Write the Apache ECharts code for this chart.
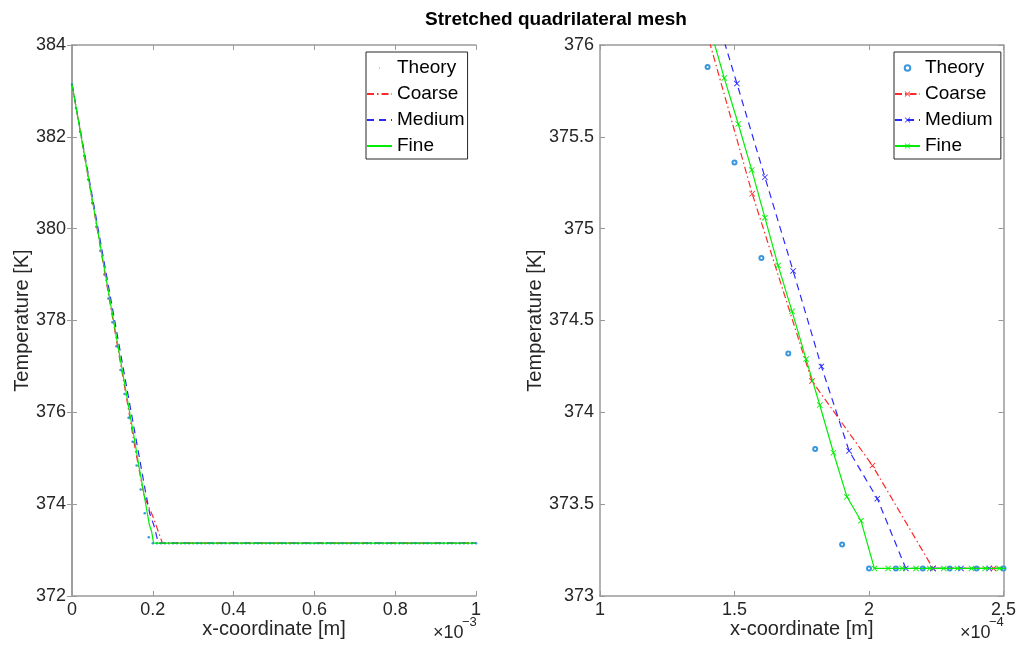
<!DOCTYPE html>
<html><head><meta charset="utf-8">
<script src="https://cdn.jsdelivr.net/npm/echarts@6/dist/echarts.min.js"></script>
<style>html,body{margin:0;padding:0;background:#fff}#c{width:1019px;height:654px}</style>
</head><body><div id="c"></div>
<script>
// x positions in mm (1e-3 m), temperatures in K
const xTheory = [0,0.01,0.02,0.03,0.04,0.05,0.06,0.07,0.08,0.09,
0.10,0.11,0.12,0.13,0.14,0.15,0.16,0.17,0.18,0.19,
0.20,0.21,0.22,0.23,0.24,0.25,0.26,0.27,0.28,0.29,
0.30,0.31,0.32,0.33,0.34,0.35,0.36,0.37,0.38,0.39,
0.40,0.41,0.42,0.43,0.44,0.45,0.46,0.47,0.48,0.49,
0.50,0.51,0.52,0.53,0.54,0.55,0.56,0.57,0.58,0.59,
0.60,0.61,0.62,0.63,0.64,0.65,0.66,0.67,0.68,0.69,
0.70,0.71,0.72,0.73,0.74,0.75,0.76,0.77,0.78,0.79,
0.80,0.81,0.82,0.83,0.84,0.85,0.86,0.87,0.88,0.89,
0.90,0.91,0.92,0.93,0.94,0.95,0.96,0.97,0.98,0.99,1.00];
const tTheory = [383.15,382.63,382.11,381.59,381.07,380.56,380.04,379.52,379.00,378.48,
377.96,377.44,376.92,376.40,375.88,375.36,374.84,374.32,373.80,373.28,
373.15,373.15,373.15,373.15,373.15,373.15,373.15,373.15,373.15,373.15,
373.15,373.15,373.15,373.15,373.15,373.15,373.15,373.15,373.15,373.15,
373.15,373.15,373.15,373.15,373.15,373.15,373.15,373.15,373.15,373.15,
373.15,373.15,373.15,373.15,373.15,373.15,373.15,373.15,373.15,373.15,
373.15,373.15,373.15,373.15,373.15,373.15,373.15,373.15,373.15,373.15,
373.15,373.15,373.15,373.15,373.15,373.15,373.15,373.15,373.15,373.15,
373.15,373.15,373.15,373.15,373.15,373.15,373.15,373.15,373.15,373.15,
373.15,373.15,373.15,373.15,373.15,373.15,373.15,373.15,373.15,373.15,373.15];

const xCoarse = [0,0.02238,0.04476,0.06714,0.08952,0.1119,0.1343,0.1566,0.1788,0.2013,0.2238,0.2463,0.2688,1.0];
const tCoarse = [383.15,382.02,380.88,379.75,378.61,377.48,376.35,375.19,374.17,373.71,373.15,373.15,373.15,373.15];

const xMedium = [0,0.0462,0.0986,0.1404,0.1509,0.1613,0.1718,0.1823,0.1926,0.2031,0.2137,0.2238,0.2342,0.2447,0.2551,1.0];
const tMedium = [383.15,380.90,378.34,376.30,375.79,375.28,374.77,374.25,373.79,373.53,373.15,373.15,373.15,373.15,373.15,373.15];

const xFine = [0,0.05,0.10,0.1411,0.1462,0.1514,0.1564,0.1613,0.1662,0.1714,0.1766,0.1817,0.1868,0.1918,0.1970,0.2020,
0.2071,0.2123,0.2175,0.2226,0.2278,0.2329,0.2381,0.2432,0.2484,0.2535,1.0];
const tFine = [383.15,380.64,378.14,376.08,375.82,375.57,375.32,375.06,374.80,374.55,374.29,374.04,373.78,373.54,373.41,373.15,
373.15,373.15,373.15,373.15,373.15,373.15,373.15,373.15,373.15,373.15,373.15];

const seriesNames = ['Theory','Coarse','Medium','Fine'];
const xTicksLeft = [0,0.2,0.4,0.6,0.8,1];      // ×10^-3 m
const xTicksRight = [1,1.5,2,2.5];            // ×10^-4 m
const yTicksLeft = [372,374,376,378,380,382,384];
const yTicksRight = [373,373.5,374,374.5,375,375.5,376];

const FONT = '"Liberation Sans", Arial, sans-serif';
const TXT = '#262626';
const AX = '#9a9a9a';
const pairs = (xs, ts, s) => xs.map((x, i) => [x * s, ts[i]]);
const rng = t => ({min: t[0], max: t[t.length-1], interval: t[1]-t[0]});

function xAx(grid, ticks, pos, labels, name) {
  return Object.assign({
    type: 'value', gridIndex: grid, position: pos,
    axisLine: {show: true, lineStyle: {color: AX, width: 1.5}},
    axisTick: {show: true, inside: true, length: 5, lineStyle: {color: AX}},
    axisLabel: {show: labels, color: TXT, fontSize: 18, fontFamily: FONT, margin: 5},
    splitLine: {show: false},
    name: name || '', nameLocation: 'middle', nameGap: 23, nameMoveOverlap: false,
    nameTextStyle: {color: TXT, fontSize: 20, fontFamily: FONT}
  }, rng(ticks));
}
function yAx(grid, ticks, pos, labels, name) {
  return Object.assign({
    type: 'value', gridIndex: grid, position: pos,
    axisLine: {show: true, lineStyle: {color: AX, width: 1.5}},
    axisTick: {show: true, inside: true, length: 5, lineStyle: {color: AX}},
    axisLabel: {show: labels, color: TXT, fontSize: 18, fontFamily: FONT, margin: 6},
    splitLine: {show: false},
    name: name || '', nameLocation: 'middle', nameGap: 40, nameRotate: 90,
    nameTextStyle: {color: TXT, fontSize: 20, fontFamily: FONT}
  }, rng(ticks));
}

const X = 'path://M0,1L1,0L5,4L9,0L10,1L6,5L10,9L9,10L5,6L1,10L0,9L4,5Z';
const cTheory = '#3a96dd', cCoarse = '#ff2a2a', cMedium = '#2a2aff', cFine = '#00ee00';
const styles = {
  Coarse: {color: cCoarse, type: [7,3,1.5,3]},
  Medium: {color: cMedium, type: [7,5]},
  Fine:   {color: cFine, type: 'solid'}
};
const lineData = {Coarse: [xCoarse, tCoarse], Medium: [xMedium, tMedium], Fine: [xFine, tFine]};

const series = [];
// left subplot (units 1e-3 m)
series.push({name: 'Theory', type: 'line', xAxisIndex: 0, yAxisIndex: 0,
  data: pairs(xTheory, tTheory, 1), symbol: 'circle', symbolSize: 2.5, showSymbol: true,
  lineStyle: {width: 0, opacity: 0}, itemStyle: {color: cTheory}, animation: false, z: 2});
['Coarse','Medium','Fine'].forEach((n, k) => series.push({name: n, type: 'line', xAxisIndex: 0, yAxisIndex: 0,
  data: pairs(lineData[n][0], lineData[n][1], 1), symbol: 'none',
  lineStyle: {color: styles[n].color, width: 1.2, type: styles[n].type},
  itemStyle: {color: styles[n].color}, animation: false, z: 3 + k}));
// right subplot (units 1e-4 m)
series.push({name: 'Theory ', type: 'line', xAxisIndex: 2, yAxisIndex: 2,
  data: pairs(xTheory, tTheory, 10), symbol: 'emptyCircle', symbolSize: 4, showSymbol: true,
  lineStyle: {width: 0, opacity: 0}, itemStyle: {color: cTheory, borderWidth: 0.8}, animation: false, z: 2});
['Coarse','Medium','Fine'].forEach((n, k) => series.push({name: n + ' ', type: 'line', xAxisIndex: 2, yAxisIndex: 2,
  data: pairs(lineData[n][0], lineData[n][1], 10), symbol: X, symbolSize: 6, showSymbol: true,
  lineStyle: {color: styles[n].color, width: 1.2, type: styles[n].type},
  itemStyle: {color: styles[n].color, borderWidth: 0}, animation: false, z: 3 + k}));

const legendCommon = {
  orient: 'vertical', itemWidth: 25, itemHeight: 7, itemGap: 6,
  borderColor: '#262626', borderWidth: 1, backgroundColor: '#fff',
  padding: [6, 3, 3, 0], selectedMode: false,
  textStyle: {color: '#000', fontSize: 19, fontFamily: FONT, lineHeight: 20}
};
const hide = {opacity: 0};

const chart = echarts.init(document.getElementById('c'), null, {renderer: 'canvas'});
chart.setOption({
  animation: false,
  backgroundColor: '#fff',
  grid: [
    {left: 72, top: 45, width: 404, height: 551},
    {left: 600, top: 45, width: 406, height: 551}
  ],
  xAxis: [
    xAx(0, xTicksLeft, 'bottom', true, 'x-coordinate [m]'),
    xAx(0, xTicksLeft, 'top', false),
    xAx(1, xTicksRight, 'bottom', true, 'x-coordinate [m]'),
    xAx(1, xTicksRight, 'top', false)
  ],
  yAxis: [
    yAx(0, yTicksLeft, 'left', true, 'Temperature [K]'),
    yAx(0, yTicksLeft, 'right', false),
    yAx(1, yTicksRight, 'left', true, 'Temperature [K]'),
    yAx(1, yTicksRight, 'right', false)
  ],
  legend: [
    Object.assign({}, legendCommon, {left: 366, top: 52,
      data: [{name: 'Theory', icon: 'path://M0,0M24,14M11,7a1.2,1.2 0 1,0 2.4,0a1.2,1.2 0 1,0 -2.4,0Z'},
             {name: 'Coarse', itemStyle: hide}, {name: 'Medium', itemStyle: hide}, {name: 'Fine', itemStyle: hide}]}),
    Object.assign({}, legendCommon, {left: 894, top: 52,
      data: ['Theory ', 'Coarse ', 'Medium ', 'Fine ']})
  ],
  graphic: [
    {type: 'text', x: 556, y: 20, style: {text: 'Stretched quadrilateral mesh',
      font: 'bold 19px ' + FONT, fill: '#000', textAlign: 'center', textVerticalAlign: 'middle'}},
    {type: 'text', x: 433, y: 633, style: {text: '×10', font: '18px ' + FONT, fill: TXT, textVerticalAlign: 'middle'}},
    {type: 'text', x: 462, y: 622, style: {text: '−3', font: '13px ' + FONT, fill: TXT, textVerticalAlign: 'middle'}},
    {type: 'text', x: 960, y: 633, style: {text: '×10', font: '18px ' + FONT, fill: TXT, textVerticalAlign: 'middle'}},
    {type: 'text', x: 989, y: 622, style: {text: '−4', font: '13px ' + FONT, fill: TXT, textVerticalAlign: 'middle'}}
  ],
  series: series
});
</script></body></html>
